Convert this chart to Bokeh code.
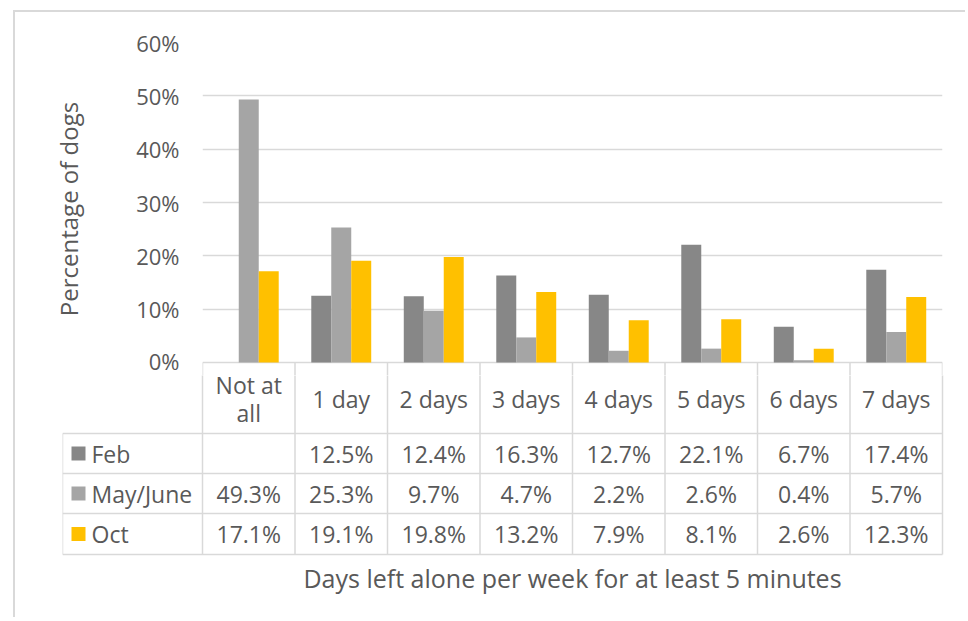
import numpy as np
from bokeh.plotting import figure
from bokeh.models import FactorRange, Range1d, FixedTicker, ColumnDataSource
from bokeh.transform import dodge
from bokeh.layouts import column
from bokeh.embed import file_html
from bokeh.resources import INLINE
from bokeh.core.properties import value

# ---------------- data ----------------
categories = ["Not at all", "1 day", "2 days", "3 days", "4 days", "5 days", "6 days", "7 days"]
header_labels = ["Not at\nall", "1 day", "2 days", "3 days", "4 days", "5 days", "6 days", "7 days"]
series_names = ["Feb", "May/June", "Oct"]
feb = [None, 12.5, 12.4, 16.3, 12.7, 22.1, 6.7, 17.4]
may_june = [49.3, 25.3, 9.7, 4.7, 2.2, 2.6, 0.4, 5.7]
oct_ = [17.1, 19.1, 19.8, 13.2, 7.9, 8.1, 2.6, 12.3]
y_ticks = [0, 10, 20, 30, 40, 50, 60]
y_tick_labels = ["0%", "10%", "20%", "30%", "40%", "50%", "60%"]
y_title = "Percentage of dogs"
x_title = "Days left alone per week for at least 5 minutes"

# ---------------- style ----------------
colors = ["#878787", "#A5A5A5", "#FFC000"]
TXT = "#595959"
GRID = "#D9D9D9"
FONT = "Open Sans"
FS = "22px"
FS_T = "23px"
W = 950
X0, Y0 = 15, 12        # page position of the figures (inside the chart border)
PX = 92.5              # px per category
PPY = 320 / 60.0       # px per percentage point
EXT = 13               # px of the table header drawn in the bar figure
H1 = 362 + EXT - Y0
H2 = 605 - H1
BAR_W = 0.216

series = [np.array(feb, dtype=float), np.array(may_june, dtype=float), np.array(oct_, dtype=float)]
src = ColumnDataSource(dict(cat=categories, s0=series[0], s1=series[1], s2=series[2]))

# table row edges (px below the 0% line)
rows = [0, 71, 111, 151, 192]

# ---------------- bar chart ----------------
p1 = figure(width=W, height=H1, x_range=FactorRange(factors=categories),
            y_range=Range1d(-EXT / PPY, 60),
            output_backend="svg", toolbar_location=None,
            min_border_left=202 - X0, min_border_right=X0 + W - 942, min_border_top=42 - Y0,
            min_border_bottom=0)
p1.frame_align = False
for i, key in enumerate(["s0", "s1", "s2"]):
    p1.vbar(x=dodge("cat", (i - 1) * BAR_W, range=p1.x_range), top=key, width=BAR_W,
            source=src, fill_color=colors[i], line_color=None)
# top part of the table's vertical cell borders
p1.segment(x0=list(range(9)), y0=[0] * 9, x1=list(range(9)), y1=[-EXT / PPY - 1] * 9,
           line_color=GRID, line_width=1.5)
p1.xaxis.visible = False
p1.xgrid.visible = False
p1.outline_line_color = None
p1.ygrid.grid_line_color = GRID
p1.ygrid.grid_line_width = 1.5
ax = p1.yaxis[0]
ax.ticker = FixedTicker(ticks=y_ticks)
ax.major_label_overrides = {t: l for t, l in zip(y_ticks, y_tick_labels)}
ax.axis_line_color = None
ax.major_tick_line_color = None
ax.minor_tick_line_color = None
ax.major_label_standoff = 17
ax.major_label_text_font = FONT
ax.major_label_text_font_size = FS
ax.major_label_text_color = TXT
ax.axis_label = y_title
ax.axis_label_text_font = FONT
ax.axis_label_text_font_size = "24px"
ax.axis_label_text_font_style = "normal"
ax.axis_label_text_color = TXT
ax.axis_label_standoff = 48

# ---------------- data table ----------------
LEG = 140 / PX
p2 = figure(width=W, height=H2, x_range=Range1d(-LEG, 8 + 2 / PX),
            y_range=Range1d(EXT + H2, EXT),
            output_backend="svg", toolbar_location=None,
            min_border_left=62 - X0, min_border_right=X0 + W - 944, min_border_top=0,
            min_border_bottom=0)
p2.frame_align = False
p2.axis.visible = False
p2.grid.visible = False
p2.outline_line_color = None

x0s, y0s, x1s, y1s = [], [], [], []
for r in rows[1:]:
    x0s.append(-LEG); x1s.append(8); y0s.append(r); y1s.append(r)
for c in range(9):
    x0s.append(c); x1s.append(c); y0s.append(rows[0]); y1s.append(rows[-1])
x0s.append(-LEG); x1s.append(-LEG); y0s.append(rows[1]); y1s.append(rows[-1])
p2.segment(x0=x0s, y0=y0s, x1=x1s, y1=y1s, line_color=GRID, line_width=1.5)

# header
p2.text(x=[i + 0.5 for i in range(8)], y=[(rows[0] + rows[1]) / 2 + 1] * 8, text=header_labels,
        text_align="center", text_baseline="middle", text_font=value(FONT),
        text_font_size=FS_T, text_color=TXT, text_line_height=0.9)

# rows
for k, (name, vals) in enumerate(zip(series_names, series)):
    yc = (rows[k + 1] + rows[k + 2]) / 2
    xs, ts = [], []
    for i, v in enumerate(vals):
        if not np.isnan(v):
            xs.append(i + 0.5); ts.append(f"{v:.1f}%")
    p2.text(x=xs, y=[yc] * len(xs), text=ts, text_align="center", text_baseline="middle",
            text_font=value(FONT), text_font_size=FS_T, text_color=TXT)
    p2.scatter(x=[(78 - 202) / PX], y=[yc], marker="square", size=14,
               fill_color=colors[k], line_color=None)
    p2.text(x=[(91 - 202) / PX], y=[yc], text=[name], text_align="left", text_baseline="middle",
            text_font=value(FONT), text_font_size=FS_T, text_color=TXT)

# x title
p2.text(x=[4], y=[215], text=[x_title], text_align="center", text_baseline="middle",
        text_font=value(FONT), text_font_size="25px", text_color=TXT)

layout = column(p1, p2, margin=(Y0 - 2, 0, 0, X0 - 2),
                styles={"border-left": "2px solid #D9D9D9", "border-top": "2px solid #D9D9D9"})

open("out.html", "w").write(file_html(layout, INLINE))
